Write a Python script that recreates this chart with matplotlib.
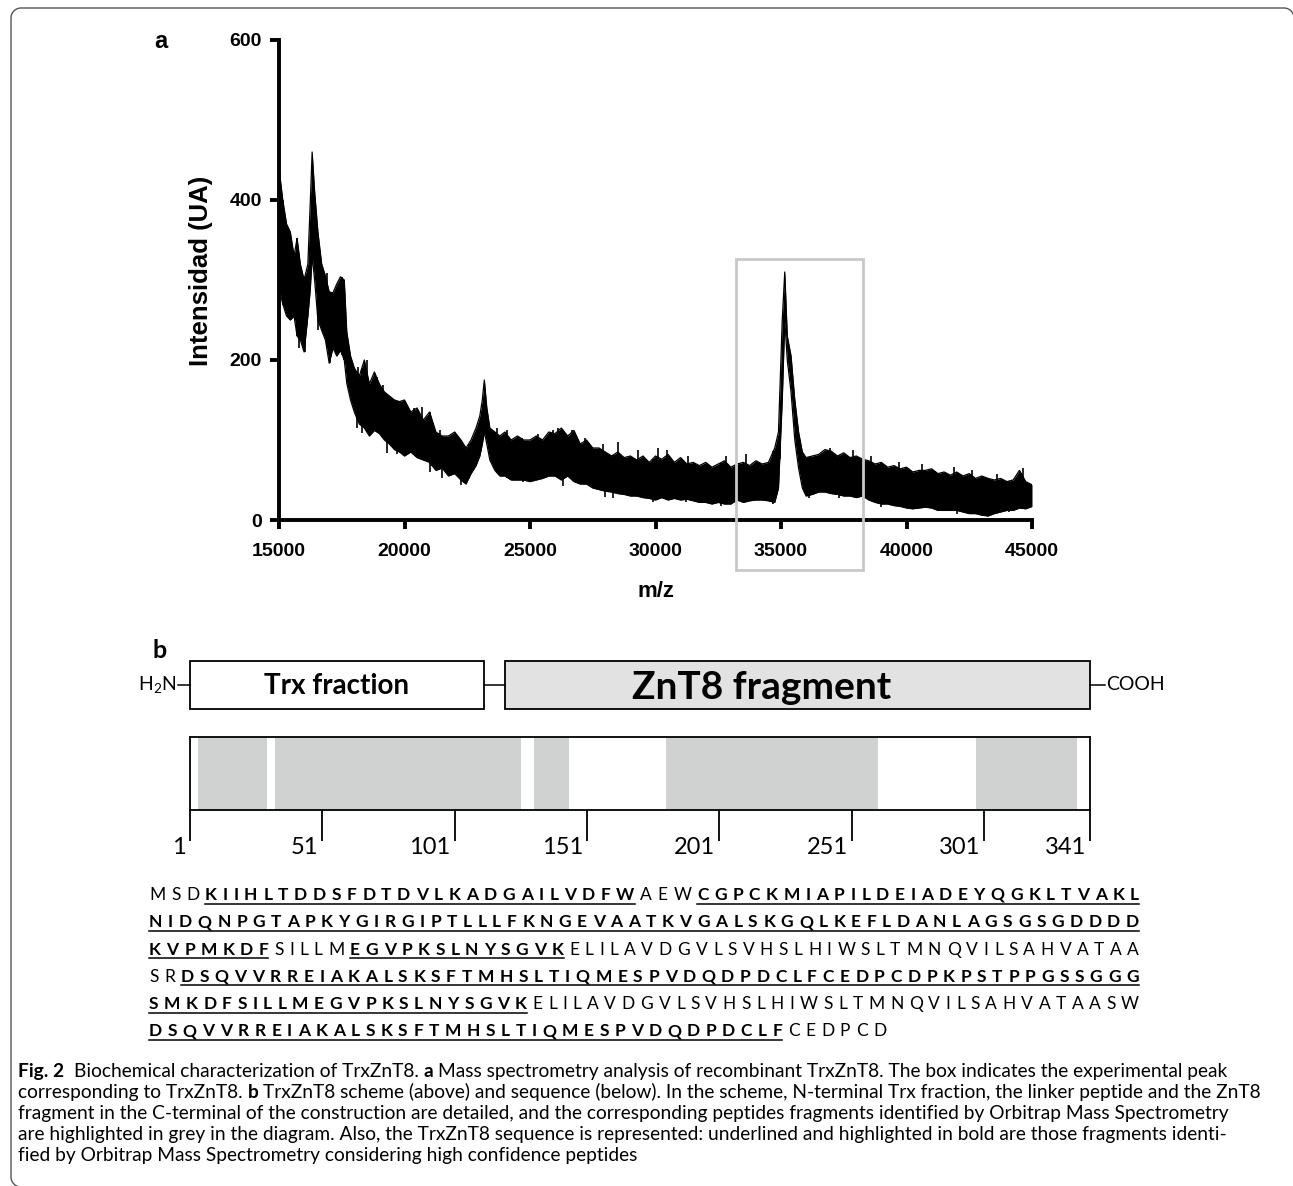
#importing libraries
import numpy as np
import matplotlib
matplotlib.use('Agg')
import matplotlib.pyplot as plt
from matplotlib.patches import Rectangle
from matplotlib.lines import Line2D
from matplotlib.transforms import IdentityTransform, offset_copy

plt.rcParams['font.family'] = ['Liberation Sans', 'DejaVu Sans']
plt.rcParams['mathtext.fontset'] = 'custom'
plt.rcParams['mathtext.rm'] = 'Lato'

#mass spectrum: m/z and the lower / upper edge of the noisy trace
mz = [15000, 15150, 15300, 15450, 15600, 15720, 15850, 16000, 16150, 16250,
      16320, 16420, 16550, 16700, 16850, 17000, 17150, 17300, 17450, 17600,
      17700, 17850, 18000, 18200, 18400, 18600, 18800, 19000, 19200, 19400,
      19600, 19800, 20000, 20250, 20500, 20750, 21000, 21250, 21500, 21750,
      22000, 22250, 22450, 22650, 22850, 23000, 23100, 23180, 23280, 23400,
      23600, 23800, 24000, 24250, 24500, 24750, 25000, 25250, 25500, 25750,
      26000, 26250, 26500, 26750, 27000, 27250, 27500, 27750, 28000, 28250,
      28500, 28750, 29000, 29250, 29500, 29750, 30000, 30250, 30500, 30750,
      31000, 31250, 31500, 31750, 32000, 32250, 32500, 32750, 33000, 33250,
      33500, 33750, 34000, 34250, 34500, 34750, 34900, 35050, 35150, 35250,
      35400, 35550, 35700, 35850, 36000, 36250, 36500, 36750, 37000, 37250,
      37500, 37750, 38000, 38250, 38500, 38750, 39000, 39250, 39500, 39750,
      40000, 40250, 40500, 40750, 41000, 41250, 41500, 41750, 42000, 42250,
      42500, 42750, 43000, 43250, 43500, 43750, 44000, 44250, 44500, 44750,
      45000]
lower = [290, 270, 255, 250, 255, 230, 225, 210, 255, 290,
         330, 300, 250, 237, 225, 196, 215, 205, 212, 200,
         171, 150, 135, 120, 115, 105, 112, 108, 100, 95,
         88, 85, 80, 85, 78, 75, 72, 62, 65, 55,
         58, 50, 45, 58, 68, 80, 95, 110, 95, 75,
         62, 55, 55, 50, 50, 50, 48, 50, 52, 55,
         55, 50, 55, 48, 45, 45, 40, 38, 36, 35,
         33, 32, 30, 30, 28, 27, 25, 28, 25, 27,
         25, 26, 24, 22, 22, 20, 22, 20, 20, 25,
         22, 24, 25, 25, 24, 22, 40, 150, 250, 200,
         160, 100, 65, 40, 30, 32, 35, 35, 33, 32,
         30, 30, 28, 30, 25, 22, 20, 20, 18, 17,
         15, 14, 15, 16, 15, 12, 12, 12, 12, 10,
         8, 8, 6, 5, 8, 10, 12, 12, 15, 14,
         17]
upper = [440, 400, 370, 360, 330, 352, 320, 300, 320, 400,
         460, 410, 360, 320, 305, 285, 284, 295, 304, 300,
         235, 205, 190, 180, 200, 170, 185, 170, 160, 155,
         150, 148, 150, 135, 140, 125, 135, 110, 105, 105,
         110, 100, 90, 100, 115, 130, 150, 175, 140, 115,
         110, 105, 110, 100, 105, 100, 100, 105, 100, 110,
         108, 115, 105, 112, 95, 100, 90, 90, 85, 80,
         85, 78, 80, 75, 80, 72, 80, 76, 82, 72,
         78, 70, 72, 68, 72, 66, 70, 74, 66, 70,
         72, 68, 74, 70, 72, 90, 110, 250, 310, 230,
         205, 150, 110, 85, 78, 80, 82, 88, 86, 80,
         84, 78, 80, 76, 74, 70, 72, 66, 68, 64,
         66, 60, 62, 62, 64, 58, 60, 56, 60, 55,
         58, 52, 55, 52, 50, 52, 48, 50, 62, 48,
         44]
#single noise spikes sticking out of the trace (m/z, tip intensity)
up_mz = [15160, 15720, 16900, 17150, 17520, 18150, 18500, 18900, 19140, 19420,
         20040, 20370, 20700, 21100, 21400, 22580, 22900, 23690, 24100, 24690,
         25300, 25900, 26115, 26680, 27200, 27900, 28500, 29300, 30100, 30460,
         31300, 32800, 33600, 34950, 36950, 37880, 38600, 39700, 40600, 41900,
         42600, 43600, 44650]
up_tip = [400, 352, 309, 284, 304, 191, 200, 179, 169, 150,
          137, 140, 141, 115, 112, 95, 112, 115, 112, 102,
          108, 112, 115, 113, 102, 95, 97, 88, 90, 87,
          80, 80, 82, 115, 90, 88, 80, 72, 70, 66,
          62, 58, 65]
down_mz = [15800, 16040, 16560, 17030, 17600, 18100, 18300, 19300, 19700, 21000,
           21500, 22250, 24720, 26300, 28000, 28300, 29900, 31200, 32600, 34700,
           36100, 37300, 39000, 41130, 42000, 43300, 44100]
down_tip = [215, 210, 237, 196, 200, 115, 109, 84, 82, 60,
            52, 44, 48, 42, 29, 27, 22, 22, 18, 20,
            28, 27, 16, 12, 8, 6, 10]
#grey box round the TrxZnT8 peak
box_mz = (33200, 38250)
box_int = (-63, 326)

#scheme: residue ranges of the construct and the peptides found by Orbitrap MS
n_res = 341
trx = (1, 112)
linker = (112, 120)
znt8 = (120, 341)
peptides = [(4, 29), (33, 125), (131, 143), (181, 260), (298, 335)]
res_ticks = [1, 51, 101, 151, 201, 251, 301, 341]
seq_rows = ['MSDKIIHLTDDSFDTDVLKADGAILVDFWAEWCGPCKMIAPILDEIADEYQGKLTVAKL',
            'NIDQNPGTAPKYGIRGIPTLLLFKNGEVAATKVGALSKGQLKEFLDANLAGSGSGDDDD',
            'KVPMKDFSILLMEGVPKSLNYSGVKELILAVDGVLSVHSLHIWSLTMNQVILSAHVATAA',
            'SRDSQVVRREIAKALSKSFTMHSLTIQMESPVDQDPDCLFCEDPCDPKPSTPPGSSGGG',
            'SMKDFSILLMEGVPKSLNYSGVKELILAVDGVLSVHSLHIWSLTMNQVILSAHVATAASW',
            'DSQVVRREIAKALSKSFTMHSLTIQMESPVDQDPDCLFCEDPCD']

caption = [
    [('Fig. 2', True), ('Biochemical characterization of TrxZnT8.', False), ('a', True),
     ('Mass spectrometry analysis of recombinant TrxZnT8. The box indicates the experimental peak', False)],
    [('corresponding to TrxZnT8.', False), ('b', True),
     ('TrxZnT8 scheme (above) and sequence (below). In the scheme, N-terminal Trx fraction, the linker peptide and the ZnT8', False)],
    [('fragment in the C-terminal of the construction are detailed, and the corresponding peptides fragments identified by Orbitrap Mass Spectrometry', False)],
    [('are highlighted in grey in the diagram. Also, the TrxZnT8 sequence is represented: underlined and highlighted in bold are those fragments identi-', False)],
    [('fied by Orbitrap Mass Spectrometry considering high confidence peptides', False)],
]

W, H = 1293, 1186
fig = plt.figure(figsize=(W / 100, H / 100), dpi=100)
R = fig.canvas.get_renderer()


def fx(px):
    return px / W


def fy(py):
    return 1 - py / H


def axes_px(l, t, r, b):
    return fig.add_axes([fx(l), fy(b), (r - l) / W, (b - t) / H])


def text_w(s, size, family, weight='normal'):
    t = fig.text(0, 0, s, fontsize=size, family=family, fontweight=weight)
    w = t.get_window_extent(R).width
    t.remove()
    return w


def lay_row(items, py, x0, x1=None, gap=None, size=12, family='Lato', gaps=None):
    #place words/letters one after the other, justified between x0 and x1
    texts = [fig.text(0, fy(py), s, fontsize=size, family=family,
                      fontweight='bold' if b else 'normal', va='baseline', ha='left')
             for s, b in items]
    widths = [t.get_window_extent(R).width for t in texts]
    if gaps is None:
        if gap is None:
            gap = (x1 - x0 - sum(widths)) / (len(texts) - 1)
        gaps = [gap] * len(texts)
    spans = []
    x = x0
    for t, w, g in zip(texts, widths, gaps):
        t.set_x(fx(x))
        spans.append((x, x + w))
        x += w + g
    return gap, spans


#outer frame: open path (left side, top, rounded corners), right and bottom run off the picture
rr = 10
left, top, right, bottom = 11, H - 8, W + 1, -1
a1 = np.linspace(np.pi, np.pi / 2, 12)
a2 = np.linspace(np.pi / 2, 0, 12)
a3 = np.linspace(-np.pi / 2, -np.pi, 12)
fxs = np.concatenate([left + rr + rr * np.cos(a3), left + rr + rr * np.cos(a1), right - rr + rr * np.cos(a2)])
fys = np.concatenate([bottom + rr + rr * np.sin(a3), top - rr + rr * np.sin(a1), top - rr + rr * np.sin(a2)])
fig.add_artist(Line2D(fxs, fys, transform=IdentityTransform(), color='#555555', lw=1.0))

#panel a: mass spectrum
ax = axes_px(279, 40, 1032, 520)
ax.fill_between(mz, lower, upper, color='black', lw=0)
ax.plot(mz, upper, color='black', lw=0.9)
ax.plot(mz, lower, color='black', lw=0.9)
ax.vlines(up_mz, np.interp(up_mz, mz, lower), up_tip, color='black', lw=1.2)
ax.vlines(down_mz, down_tip, np.interp(down_mz, mz, upper), color='black', lw=1.2)
ax.set_xlim(15000, 45000)
ax.set_ylim(0, 600)
ax.set_xticks(range(15000, 45001, 5000))
ax.set_yticks([0, 200, 400, 600])
for s in ['top', 'right']:
    ax.spines[s].set_visible(False)
for s in ['left', 'bottom']:
    ax.spines[s].set_linewidth(2.8)
ax.tick_params(width=2.8, length=6.5, labelsize=14)
ax.tick_params(axis='x', pad=10)
ax.tick_params(axis='y', pad=6)
for lab in ax.get_xticklabels() + ax.get_yticklabels():
    lab.set_fontweight('bold')
ax.set_xlabel('m/z', fontsize=16, fontweight='bold')
ax.xaxis.set_label_coords(0.5, -0.127)
ax.set_ylabel('Intensidad (UA)', fontsize=18.5, fontweight='bold', va='center')
ax.yaxis.set_label_coords(-0.103, 0.52)
ax.add_patch(Rectangle((box_mz[0], box_int[0]), box_mz[1] - box_mz[0], box_int[1] - box_int[0],
                       fill=False, ec='#c8c8c8', lw=2, clip_on=False, zorder=5))
fig.text(fx(154), fy(48), 'a', fontsize=17, fontweight='bold')

#panel b: domain scheme
rp = (n_res - 1) / 900.0
axd = axes_px(190, 661, 1090, 709)
axd.set_xlim(1, n_res)
axd.set_ylim(0, 1)
axd.axis('off')
axd.add_patch(Rectangle((trx[0], 0), trx[1] - trx[0], 1, fc='white', ec='black', lw=1.3, clip_on=False))
axd.add_patch(Rectangle((znt8[0], 0), znt8[1] - znt8[0], 1, fc='#e2e2e2', ec='black', lw=1.3, clip_on=False))
axd.plot(linker, [0.5, 0.5], color='black', lw=1.1, clip_on=False)
axd.plot([1 - 12 * rp, 1], [0.5, 0.5], color='black', lw=1.1, clip_on=False)
axd.plot([n_res, n_res + 15 * rp], [0.5, 0.5], color='black', lw=1.1, clip_on=False)
axd.text(1 - 13 * rp, 0.5, 'H$_2$N', ha='right', va='center', fontsize=14, family='Lato')
axd.text(n_res + 16 * rp, 0.5, 'COOH', ha='left', va='center', fontsize=14, family='Lato')
axd.text(sum(trx) / 2, 0.47, 'Trx fraction', ha='center', va='center', fontsize=20,
         fontweight='bold', family='Lato')
axd.text(217, 0.45, 'ZnT8 fragment', ha='center', va='center', fontsize=28,
         fontweight='bold', family='Lato')
fig.text(fx(153), fy(658), 'b', fontsize=18, fontweight='bold', family='Lato')

#coverage bar
axb = axes_px(190, 737, 1090, 810)
axb.set_xlim(1, n_res)
axb.set_ylim(0, 1)
for a, b in peptides:
    axb.axvspan(a, b + 1, color='#d0d2d1', lw=0)
axb.set_yticks([])
axb.set_xticks(res_ticks)
axb.set_xticklabels([])
axb.tick_params(axis='x', length=22, width=1.3)
for s in axb.spines.values():
    s.set_linewidth(1.3)
lab_tr = offset_copy(axb.get_xaxis_transform(), fig=fig, x=-4, y=-44, units='dots')
for r in res_ticks:
    axb.text(r, 0, str(r), transform=lab_tr, ha='right', va='baseline', fontsize=17, family='Lato')

#sequence, bold + underlined where a peptide was found
seq = ''.join(seq_rows)
bold = np.zeros(len(seq), bool)
for a, b in peptides:
    bold[a - 1:b] = True
gaps = []
start = 0
for k, row in enumerate(seq_rows):
    py = 900 + k * 27.3
    items = [(c, bold[start + i]) for i, c in enumerate(row)]
    if k < len(seq_rows) - 1:
        g, spans = lay_row(items, py, 149, 1139, size=12.5)
        gaps.append(g)
    else:
        g, spans = lay_row(items, py, 149, gap=np.mean(gaps), size=12.5)
    i = 0
    while i < len(row):
        if items[i][1]:
            j = i
            while j + 1 < len(row) and items[j + 1][1]:
                j += 1
            fig.add_artist(Line2D([fx(spans[i][0]), fx(spans[j][1])], [fy(py + 3.5)] * 2,
                                  transform=fig.transFigure, color='black', lw=1.1))
            i = j + 1
        else:
            i += 1
    start += len(row)


#caption: font size chosen so the longest line fits the text width
def line_w(row, size):
    sp = text_w('n n', size, 'Lato') - text_w('nn', size, 'Lato')
    ws = sum(text_w(s, size, 'Lato', 'bold' if b else 'normal') for s, b in row)
    return ws + sp * (len(row) - 1 + (1 if row[0][0] == 'Fig. 2' else 0))


cap_size = 13 * 1244 / max(line_w(row, 13) for row in caption)
space_w = text_w('n n', cap_size, 'Lato') - text_w('nn', cap_size, 'Lato')
for k, row in enumerate(caption):
    seps = [2 * space_w if s == 'Fig. 2' else space_w for s, b in row]
    lay_row(row, 1077 + k * 21, 18, size=cap_size, gaps=seps)

fig.savefig('out.png', dpi=100)
